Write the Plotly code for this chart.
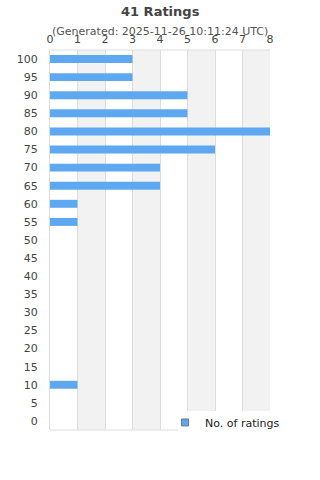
import plotly.graph_objects as go

categories = [100, 95, 90, 85, 80, 75, 70, 65, 60, 55, 50, 45, 40, 35, 30, 25, 20, 15, 10, 5, 0]
counts = [3, 3, 5, 5, 8, 6, 4, 4, 1, 1, 0, 0, 0, 0, 0, 0, 0, 0, 1, 0, 0]
x_ticks = [0, 1, 2, 3, 4, 5, 6, 7, 8]
title = "41 Ratings"
subtitle = "(Generated: 2025-11-26 10:11:24 UTC)"
series_name = "No. of ratings"

FONT = "DejaVu Sans"
BAR = "#5ea8f2"
fig = go.Figure()
fig.add_trace(go.Bar(
    y=categories, x=counts, orientation="h", name=series_name,
    width=2.2, marker=dict(color=BAR, line=dict(width=0)),
    showlegend=False,
))
# legend entry (small bordered square)
fig.add_trace(go.Scatter(
    x=[None], y=[None], mode="markers", name=series_name,
    marker=dict(symbol="square", size=7, color=BAR, line=dict(color="#777", width=1)),
    showlegend=True,
))

shapes = []
for a in [1, 3, 5, 7]:
    shapes.append(dict(type="rect", xref="x", yref="paper", x0=a, x1=a + 1, y0=0, y1=1,
                       fillcolor="#f2f2f2", line=dict(width=0), layer="below"))

fig.update_layout(
    width=320, height=480,
    margin=dict(l=50, r=50, t=50, b=50),
    paper_bgcolor="white", plot_bgcolor="white",
    font=dict(family=FONT, color="#444", size=11),
    shapes=shapes,
    annotations=[
        dict(text="<b>" + title + "</b>", xref="paper", yref="paper", x=0.5, y=1,
             xanchor="center", yanchor="bottom", yshift=29, showarrow=False,
             font=dict(size=13, color="#444", family=FONT)),
        dict(text=subtitle, xref="paper", yref="paper", x=0.5, y=1,
             xanchor="center", yanchor="bottom", yshift=10, showarrow=False,
             font=dict(size=11, color="#555", family=FONT)),
    ],
    xaxis=dict(side="top", range=[0, 8], tickvals=x_ticks, showgrid=True,
               gridcolor="#dddddd", gridwidth=1, zeroline=False, showline=False,
               ticks="", ticklabelstandoff=4, tickfont=dict(size=11, color="#444"),
               fixedrange=True),
    yaxis=dict(range=[-2.5, 102.5], tickvals=categories, showgrid=False,
               zeroline=False, showline=True, linecolor="#dddddd", ticks="",
               ticklabelstandoff=9, tickfont=dict(size=11, color="#444")),
    legend=dict(x=0.523, y=0.058, xanchor="left", yanchor="top",
                bgcolor="rgba(0,0,0,0)",
                font=dict(size=11, color="#222", family=FONT)),
    bargap=0.5,
)
fig.add_shape(type="line", xref="paper", yref="paper", x0=0, x1=1, y0=0, y1=0,
              line=dict(color="#dddddd", width=1))
fig.add_shape(type="line", xref="paper", yref="paper", x0=0, x1=1, y0=1, y1=1,
              line=dict(color="#dddddd", width=1))
# white legend box covering bottom-right corner of plot
fig.add_shape(type="rect", xref="paper", yref="paper", x0=0.582, x1=1.3, y0=0.05, y1=-0.1,
              fillcolor="white", line=dict(width=0), layer="above")
fig.write_html("out.html")
